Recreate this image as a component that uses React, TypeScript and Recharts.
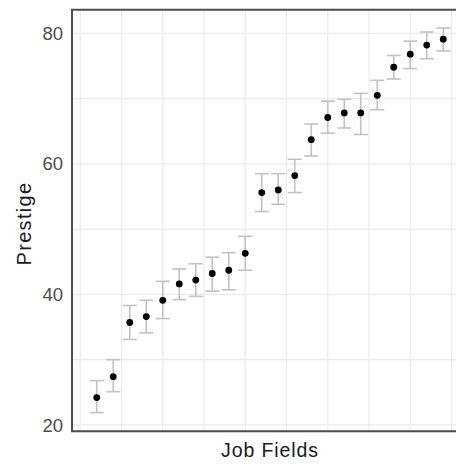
import React from "react";
import {
  ComposedChart,
  Scatter,
  ErrorBar,
  XAxis,
  YAxis,
  CartesianGrid,
  ReferenceArea,
} from "recharts";

// job fields, ranked by mean prestige
const fieldRank = [1, 2, 3, 4, 5, 6, 7, 8, 9, 10, 11, 12, 13, 14, 15, 16, 17, 18, 19, 20, 21, 22];
const prestige = [24.2, 27.4, 35.7, 36.6, 39.1, 41.6, 42.2, 43.2, 43.7, 46.3, 55.6, 56.0, 58.2, 63.7, 67.1, 67.8, 67.8, 70.5, 74.8, 76.8, 78.2, 79.1];
const lower = [21.9, 25.1, 33.1, 34.1, 36.3, 39.2, 39.7, 40.5, 40.7, 43.7, 52.7, 53.8, 55.6, 61.2, 64.7, 65.5, 64.5, 68.3, 73.0, 74.6, 76.1, 77.3];
const upper = [26.8, 30.0, 38.3, 39.1, 42.0, 43.9, 44.7, 45.7, 46.4, 48.9, 58.5, 58.5, 60.7, 66.1, 69.6, 69.9, 70.8, 72.8, 76.6, 78.8, 80.2, 80.8];

const xTicks = [0, 2.5, 5, 7.5, 10, 12.5, 15, 17.5, 20, 22.5];
const yTicks = [20, 30, 40, 50, 60, 70, 80];
const yLabels = [20, 40, 60, 80];

const X_DOMAIN: [number, number] = [-0.5, 23.5];
const Y_DOMAIN: [number, number] = [19.03, 83.6];

const FONT = "'Liberation Sans', Arial, Helvetica, sans-serif";

const data = fieldRank.map((rank, i) => ({
  rank,
  prestige: prestige[i],
  err: [prestige[i] - lower[i], upper[i] - prestige[i]],
}));

const Dot = (props: any) => <circle cx={props.cx} cy={props.cy} r={3.4} fill="#000" />;

const App = () => {
  return (
    <div style={{ position: "absolute", left: 0, top: 0, width: 456, height: 464, overflow: "hidden", background: "#fff" }}>
      <ComposedChart width={470} height={464} data={data} margin={{ top: 9.8, right: 2, bottom: 0, left: 0 }}>
        <CartesianGrid stroke="#ebebeb" strokeWidth={1.2} />
        <XAxis
          dataKey="rank"
          type="number"
          domain={X_DOMAIN}
          ticks={xTicks}
          allowDataOverflow
          tick={() => <g />}
          tickLine={false}
          axisLine={false}
          height={32.7}
          label={{
            content: (p: any) => (
              <text
                x={p.viewBox.x + p.viewBox.width / 2}
                y={p.viewBox.y + 26}
                textAnchor="middle"
                fontFamily={FONT}
                fontSize={19.5}
                letterSpacing={0.9}
                fill="#1a1a1a"
              >
                Job Fields
              </text>
            ),
          }}
        />
        <YAxis
          type="number"
          domain={Y_DOMAIN}
          ticks={yTicks}
          allowDataOverflow
          width={72}
          tickLine={false}
          axisLine={false}
          tickSize={4}
          tickMargin={5}
          tickFormatter={(v: number) => (yLabels.includes(v) ? String(v) : "")}
          tick={{ fill: "#4d4d4d", fontSize: 18.5, fontFamily: FONT }}
          label={{
            content: (p: any) => {
              const cx = p.viewBox.x + 31;
              const cy = p.viewBox.y + p.viewBox.height / 2 + 3;
              return (
                <text
                  x={cx}
                  y={cy}
                  transform={`rotate(-90 ${cx} ${cy})`}
                  textAnchor="middle"
                  fontFamily={FONT}
                  fontSize={20}
                  letterSpacing={1.3}
                  fill="#1a1a1a"
                >
                  Prestige
                </text>
              );
            },
          }}
        />
        <ReferenceArea
          x1={X_DOMAIN[0]}
          x2={X_DOMAIN[1]}
          y1={Y_DOMAIN[0]}
          y2={Y_DOMAIN[1]}
          fill="none"
          fillOpacity={0}
          stroke="#4d4d4d"
          strokeWidth={2}
        />
        <Scatter dataKey="prestige" shape={<Dot />} isAnimationActive={false}>
          <ErrorBar dataKey="err" direction="y" width={7} stroke="#c2c2c2" strokeWidth={1.6} />
        </Scatter>
      </ComposedChart>
    </div>
  );
};

export default App;
